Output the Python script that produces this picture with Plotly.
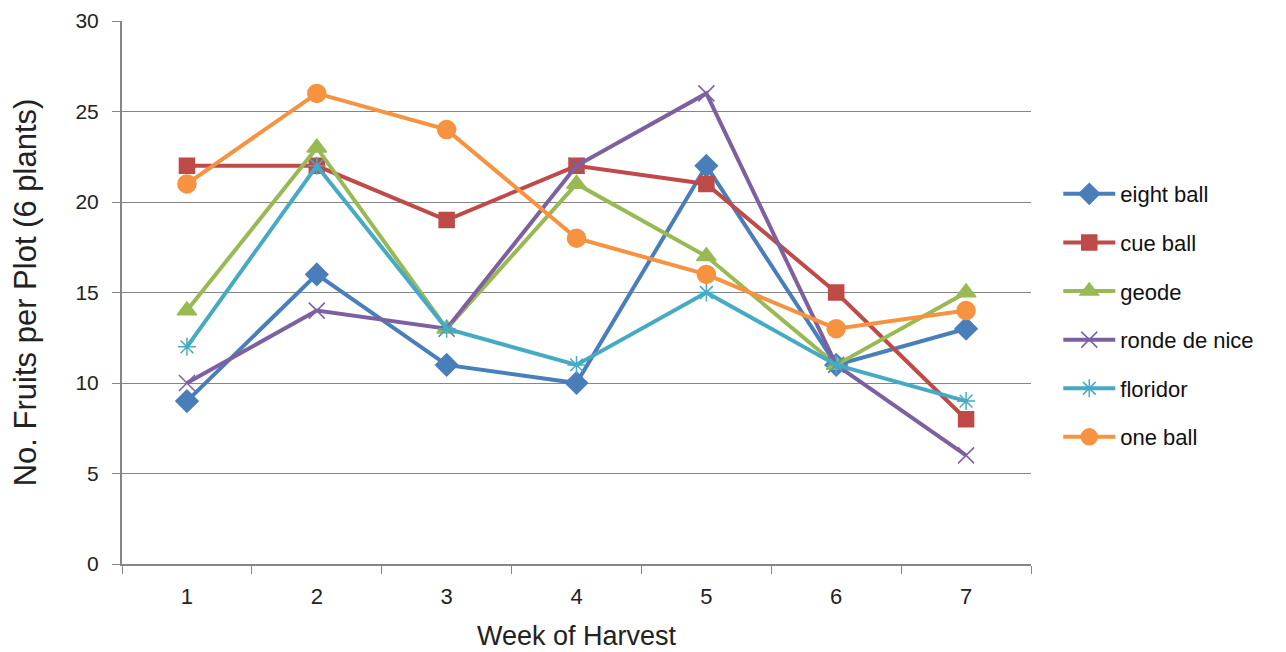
import plotly.graph_objects as go

weeks = ["1", "2", "3", "4", "5", "6", "7"]
eight_ball = [9, 16, 11, 10, 22, 11, 13]
cue_ball = [22, 22, 19, 22, 21, 15, 8]
geode = [14, 23, 13, 21, 17, 11, 15]
ronde_de_nice = [10, 14, 13, 22, 26, 11, 6]
floridor = [12, 22, 13, 11, 15, 11, 9]
one_ball = [21, 26, 24, 18, 16, 13, 14]

series = [
    ("eight ball", eight_ball, "#4A7EBB", "diamond", 17),
    ("cue ball", cue_ball, "#BE4B48", "square", 15),
    ("geode", geode, "#98B954", "triangle-up", 17),
    ("ronde de nice", ronde_de_nice, "#7D60A0", "x-thin-open", 16),
    ("floridor", floridor, "#46AAC5", "asterisk-open", 15),
    ("one ball", one_ball, "#F69240", "circle", 18),
]

FONT = "Liberation Sans, Arial, sans-serif"

fig = go.Figure()
for i, (name, vals, color, sym, size) in enumerate(series):
    fig.add_trace(go.Scatter(
        x=weeks, y=vals, name=name, mode="lines+markers",
        legendgroup=f"g{i}",
        line=dict(color=color, width=4),
        marker=dict(symbol=sym, size=size, color=color,
                    line=dict(color=color, width=1.5)),
    ))

# page body has an 8px margin: compensate so the plot sits where the reference has it
fig.update_layout(
    width=1278, height=644,
    margin=dict(l=114, r=255, t=13, b=88),
    paper_bgcolor="white", plot_bgcolor="white",
    font=dict(family=FONT, color="#222222"),
    legend=dict(x=1.03, y=0.72, xanchor="left", yanchor="top",
                font=dict(size=22, family=FONT, color="#111111"),
                tracegroupgap=17, itemwidth=52),
    showlegend=True,
)
fig.update_xaxes(
    type="category", range=[-0.5, 6.5], automargin=False,
    showline=True, linecolor="#868686", linewidth=2,
    ticks="outside", tickson="boundaries", ticklen=8, tickcolor="#868686",
    tickfont=dict(size=22), showgrid=False, ticklabelstandoff=12,
    title=dict(text="Week of Harvest", font=dict(size=27), standoff=18),
)
fig.update_yaxes(
    range=[0, 30], dtick=5, automargin=False,
    showline=True, linecolor="#868686", linewidth=2,
    ticks="outside", ticklen=8, tickcolor="#868686",
    tickfont=dict(size=21), ticklabelstandoff=9, ticklabeloverflow="allow",
    showgrid=True, gridcolor="#868686", gridwidth=1,
    zeroline=False,
    title=dict(text="No. Fruits per Plot (6 plants)", font=dict(size=31), standoff=34),
)

fig.write_html("out.html")
